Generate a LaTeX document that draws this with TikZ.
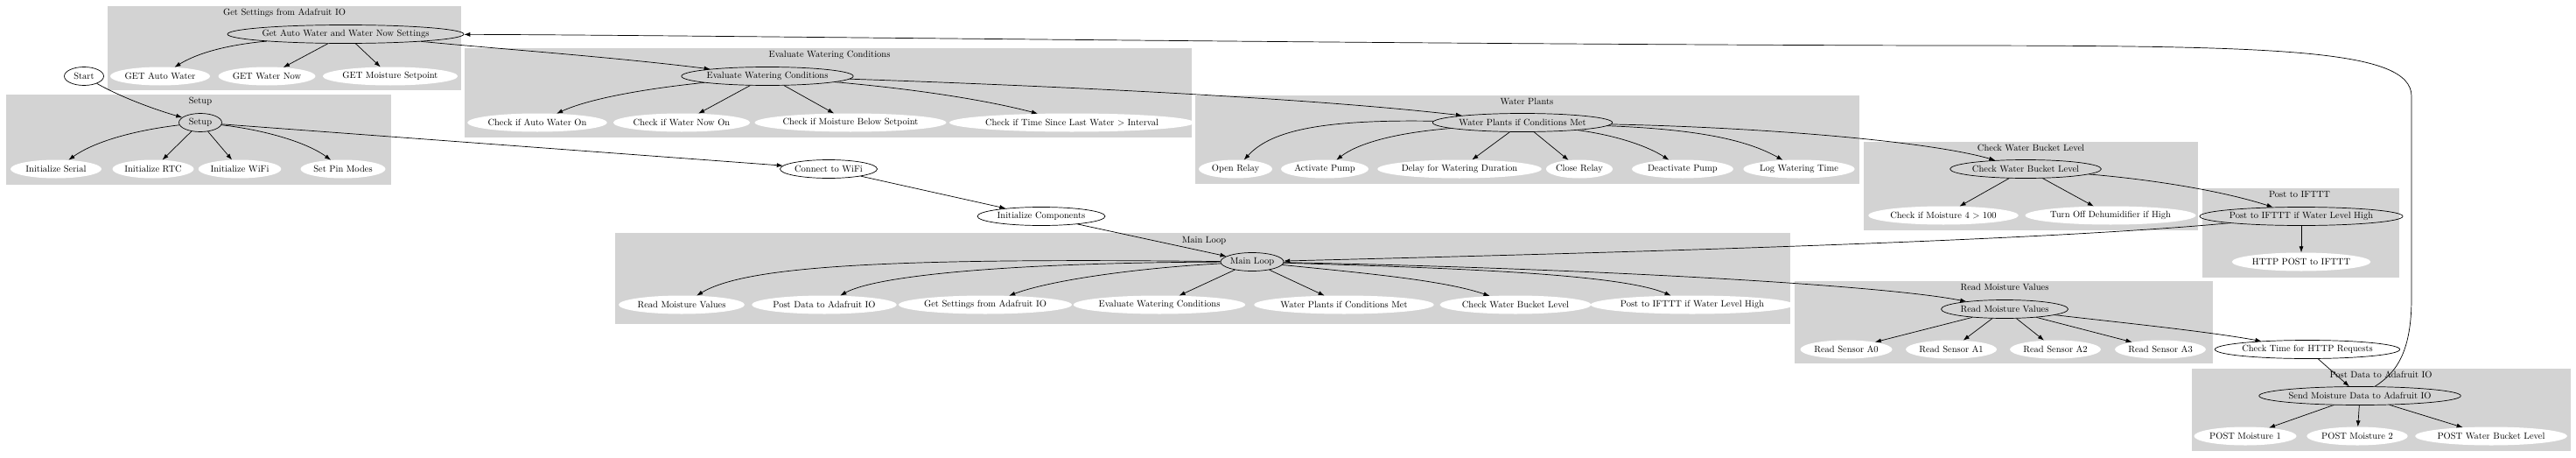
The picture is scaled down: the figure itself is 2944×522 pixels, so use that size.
\documentclass[tikz,border=0pt]{standalone}
\usetikzlibrary{shapes.geometric,arrows.meta}
\definecolor{lgray}{RGB}{211,211,211}
\begin{document}
\begin{tikzpicture}[x=1pt,y=-1pt,
  every node/.style={font=\fontsize{10.5}{12}\selectfont, inner sep=0pt},
  head/.style={ellipse, draw, line width=0.7pt, minimum height=21pt},
  leaf/.style={ellipse, fill=white, minimum height=21pt},
  free/.style={ellipse, draw, fill=white, line width=0.7pt, minimum height=21pt},
  clbl/.style={},
  e/.style={line width=0.7pt, -{Latex[length=7pt,width=5pt]}}]
\useasboundingbox (0,0) rectangle (2944,522);
% clusters
\fill[lgray] (123,7) rectangle (527,103);
\fill[lgray] (7,108) rectangle (447,211);
\fill[lgray] (531,55) rectangle (1362,157);
\fill[lgray] (1366,109) rectangle (2125,210);
\fill[lgray] (2130,162) rectangle (2512,263);
\fill[lgray] (2517,215) rectangle (2742,317);
\fill[lgray] (703,266) rectangle (2046,370);
\fill[lgray] (2051,321) rectangle (2529,415);
\fill[lgray] (2505,421) rectangle (2938,515);
\node[clbl] (l1) at (325,15) {Get Settings from Adafruit IO};
\node[clbl] (l2) at (229,116) {Setup};
\node[clbl] (l3) at (948,63) {Evaluate Watering Conditions};
\node[clbl] (l4) at (1745,116) {Water Plants};
\node[clbl] (l5) at (2321,169) {Check Water Bucket Level};
\node[clbl] (l6) at (2628,222) {Post to IFTTT};
\node[clbl] (l7) at (1376,275) {Main Loop};
\node[clbl] (l8) at (2291,328) {Read Moisture Values};
\node[clbl] (l9) at (2721,428) {Post Data to Adafruit IO};
% Get settings
\node[head, minimum width=255pt] (gaw) at (395,39) {Get Auto Water and Water Now Settings};
\node[leaf, minimum width=110pt] (g1) at (183,87) {GET Auto Water};
\node[leaf, minimum width=111pt] (g2) at (305,87) {GET Water Now};
\node[leaf, minimum width=152pt] (g3) at (446,87) {GET Moisture Setpoint};
\node[free, minimum width=45pt] (start) at (96,87) {Start};
% Setup
\node[head, minimum width=49pt] (setup) at (229,140) {Setup};
\node[leaf, minimum width=104pt] (s1) at (64,193) {Initialize Serial};
\node[leaf, minimum width=93pt] (s2) at (175,193) {Initialize RTC};
\node[leaf, minimum width=80pt] (s3) at (274,193) {Initialize WiFi};
\node[leaf, minimum width=97pt] (s4) at (392,193) {Set Pin Modes};
% Evaluate
\node[head, minimum width=192pt] (eval) at (877,87) {Evaluate Watering Conditions};
\node[leaf, minimum width=155pt] (e1) at (614,140) {Check if Auto Water On};
\node[leaf, minimum width=153pt] (e2) at (779,140) {Check if Water Now On};
\node[leaf, minimum width=207pt] (e3) at (972,140) {Check if Moisture Below Setpoint};
\node[leaf, minimum width=266pt] (e4) at (1225,140) {Check if Time Since Last Water > Interval};
\node[free, minimum width=111pt] (wifi) at (947,193) {Connect to WiFi};
\node[free, minimum width=146pt] (initc) at (1190,247) {Initialize Components};
% Water plants
\node[head, minimum width=198pt] (wp) at (1740,140) {Water Plants if Conditions Met};
\node[leaf, minimum width=84pt] (w1) at (1412,193) {Open Relay};
\node[leaf, minimum width=100pt] (w2) at (1514,193) {Activate Pump};
\node[leaf, minimum width=183pt] (w3) at (1668,193) {Delay for Watering Duration};
\node[leaf, minimum width=70pt] (w4) at (1805,193) {Close Relay};
\node[leaf, minimum width=116pt] (w5) at (1923,193) {Deactivate Pump};
\node[leaf, minimum width=127pt] (w6) at (2056,193) {Log Watering Time};
% Check water bucket
\node[head, minimum width=170pt] (cwb) at (2315,193) {Check Water Bucket Level};
\node[leaf, minimum width=171pt] (c1) at (2221,246) {Check if Moisture 4 > 100};
\node[leaf, minimum width=188pt] (c2) at (2412,246) {Turn Off Dehumidifier if High};
% IFTTT
\node[head, minimum width=215pt] (pif) at (2630,247) {Post to IFTTT if Water Level High};
\node[leaf, minimum width=140pt] (h1) at (2630,299) {HTTP POST to IFTTT};
% Main loop
\node[head, minimum width=72pt] (ml) at (1431,299) {Main Loop};
\node[leaf, minimum width=144pt] (m1) at (779,348) {Read Moisture Values};
\node[leaf, minimum width=158pt] (m2) at (942,348) {Post Data to Adafruit IO};
\node[leaf, minimum width=190pt] (m3) at (1126,348) {Get Settings from Adafruit IO};
\node[leaf, minimum width=182pt] (m4) at (1325,348) {Evaluate Watering Conditions};
\node[leaf, minimum width=199pt] (m5) at (1536,348) {Water Plants if Conditions Met};
\node[leaf, minimum width=173pt] (m6) at (1732,348) {Check Water Bucket Level};
\node[leaf, minimum width=217pt] (m7) at (1934,348) {Post to IFTTT if Water Level High};
% Read moisture
\node[head, minimum width=145pt] (rm) at (2291,353) {Read Moisture Values};
\node[leaf, minimum width=105pt] (r0) at (2110,399) {Read Sensor A0};
\node[leaf, minimum width=104pt] (r1) at (2230,399) {Read Sensor A1};
\node[leaf, minimum width=102pt] (r2) at (2349,399) {Read Sensor A2};
\node[leaf, minimum width=103pt] (r3) at (2469,399) {Read Sensor A3};
\node[free, minimum width=202pt] (cth) at (2637,399) {Check Time for HTTP Requests};
% Post data
\node[head, minimum width=220pt] (smd) at (2697,452) {Send Moisture Data to Adafruit IO};
\node[leaf, minimum width=117pt] (p1) at (2566,498) {POST Moisture 1};
\node[leaf, minimum width=111pt] (p2) at (2694,498) {POST Moisture 2};
\node[leaf, minimum width=169pt] (p3) at (2847,498) {POST Water Bucket Level};
% edges
\draw[e] (start) .. controls (140,112) and (180,126) .. (setup);
\draw[e] (setup) .. controls (160,148) and (110,160) .. (s1);
\draw[e] (setup) -- (s2);
\draw[e] (setup) -- (s3);
\draw[e] (setup) .. controls (300,148) and (350,162) .. (s4);
\draw[e] (setup) -- (wifi);
\draw[e] (wifi) -- (initc);
\draw[e] (initc) -- (ml);
\draw[e] (ml) .. controls (1000,294) and (850,305) .. (m1);
\draw[e] (ml) .. controls (1150,300) and (1000,315) .. (m2);
\draw[e] (ml) .. controls (1300,306) and (1200,320) .. (m3);
\draw[e] (ml) -- (m4);
\draw[e] (ml) -- (m5);
\draw[e] (ml) .. controls (1560,312) and (1650,320) .. (m6);
\draw[e] (ml) .. controls (1650,306) and (1850,312) .. (m7);
\draw[e] (ml) .. controls (1800,306) and (2150,325) .. (rm);
\draw[e] (pif) .. controls (2300,278) and (1700,292) .. (ml);
\draw[e] (rm) -- (r0);
\draw[e] (rm) -- (r1);
\draw[e] (rm) -- (r2);
\draw[e] (rm) -- (r3);
\draw[e] (rm) .. controls (2420,368) and (2520,378) .. (cth);
\draw[e] (cth) -- (smd);
\draw[e] (smd) -- (p1);
\draw[e] (smd) -- (p2);
\draw[e] (smd) -- (p3);
\draw[e] (smd) .. controls (2740,425) and (2756,400) .. (2756,340) -- (2756,110) .. controls (2756,55) and (2600,52) .. (2200,52) .. controls (1500,50) and (800,40) .. (gaw);
\draw[e] (gaw) .. controls (250,52) and (220,64) .. (g1);
\draw[e] (gaw) -- (g2);
\draw[e] (gaw) -- (g3);
\draw[e] (gaw) .. controls (560,55) and (700,65) .. (eval);
\draw[e] (eval) .. controls (730,102) and (670,114) .. (e1);
\draw[e] (eval) -- (e2);
\draw[e] (eval) -- (e3);
\draw[e] (eval) .. controls (1050,102) and (1130,115) .. (e4);
\draw[e] (eval) .. controls (1200,98) and (1500,112) .. (wp);
\draw[e] (wp) .. controls (1500,136) and (1450,152) .. (w1);
\draw[e] (wp) .. controls (1590,152) and (1550,165) .. (w2);
\draw[e] (wp) -- (w3);
\draw[e] (wp) -- (w4);
\draw[e] (wp) .. controls (1850,155) and (1885,168) .. (w5);
\draw[e] (wp) .. controls (1950,148) and (2000,162) .. (w6);
\draw[e] (wp) .. controls (2000,145) and (2200,160) .. (cwb);
\draw[e] (cwb) -- (c1);
\draw[e] (cwb) -- (c2);
\draw[e] (cwb) .. controls (2460,205) and (2540,218) .. (pif);
\draw[e] (pif) -- (h1);
\end{tikzpicture}
\end{document}
